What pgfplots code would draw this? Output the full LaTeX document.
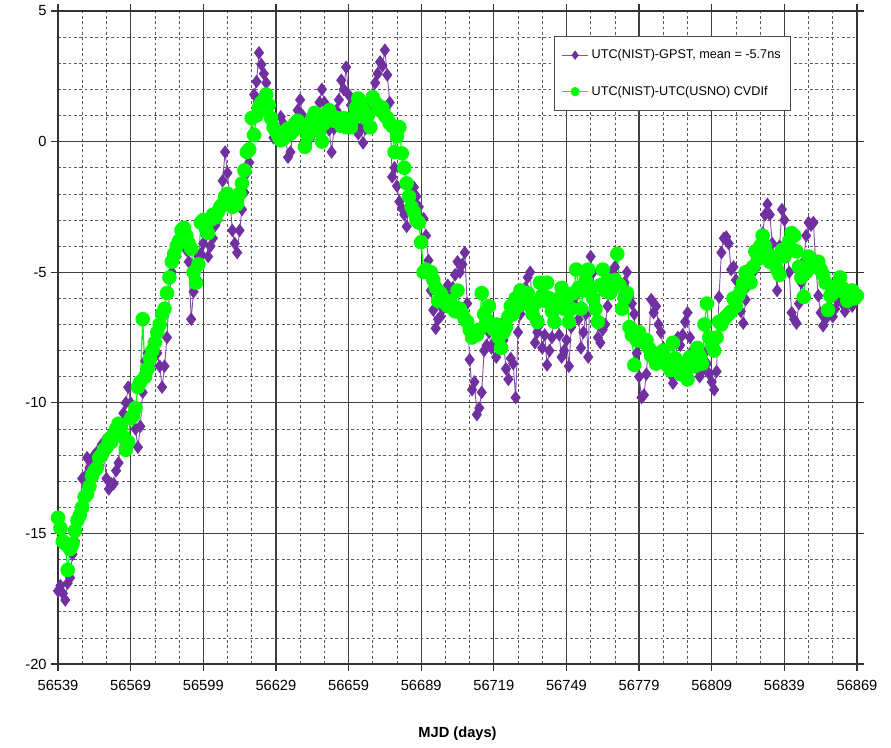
\documentclass[border=0pt]{standalone}
\usepackage{fontspec}
\setmainfont{Liberation Sans}
\usepackage{pgfplots}
\pgfplotsset{compat=1.18}
\definecolor{gpst}{RGB}{112,48,160}
\definecolor{cvd}{RGB}{0,255,0}
\begin{document}
\begin{tikzpicture}
\begin{axis}[
  scale only axis, width=599.25pt, height=489.75pt,
  xmin=56539, xmax=56869, ymin=-20, ymax=5,
  xtick={56539,56569,56599,56629,56659,56689,56719,56749,56779,56809,56839,56869},
  xticklabels={56539,56569,56599,56629,56659,56689,56719,56749,56779,56809,56839,56869},
  scaled x ticks=false,
  ytick={-20,-15,...,5},
  minor x tick num=2, minor y tick num=4,
  grid=both,
  major grid style={line width=1pt, color=black!75},
  minor grid style={dash pattern=on 2pt off 2pt, line width=0.5pt, color=black!65},
  axis line style={line width=1pt, black!80},
  tick align=outside, major tick length=5pt, minor tick length=0pt,
  tick style={black!80, line width=0.9pt},
  xticklabel style={font=\fontsize{11}{13}\selectfont, yshift=-4pt},
  yticklabel style={font=\fontsize{11}{13}\selectfont},
  /pgf/number format/assume math mode=true,
  xlabel={\bfseries MJD (days)}, xlabel style={font=\fontsize{11}{13}\selectfont, yshift=-20pt},
  legend style={at={(0.621,0.962)}, anchor=north west, draw=black!70, line width=0.6pt,
    font=\fontsize{9.5}{11}\selectfont, row sep=15pt, inner xsep=5pt, inner ysep=8pt, cells={anchor=west}},
  legend cell align=left,
  legend image code/.code={\draw[mark repeat=2,mark phase=2,mark size=3pt] plot coordinates {(0cm,0cm)(0.35cm,0cm)(0.7cm,0cm)};},
  clip=true,
]
\addplot[color=gpst!85, line width=0.7pt, mark=diamond*, mark size=4.5pt, mark options={fill=gpst, draw=gpst}] coordinates {
(56539,-17.2)(56540,-17.0)(56541,-17.3)(56542,-17.55)(56543,-16.9)(56544,-16.7)(56545,-15.8)(56546,-15.3)(56547,-14.6)(56548,-14.1)
(56549,-12.9)(56550,-12.85)(56551,-12.1)(56552,-12.5)(56553,-12.3)(56554,-12.0)(56555,-11.9)(56556,-12.4)(56557,-11.6)(56558,-12.0)
(56559,-12.9)(56560,-13.3)(56561,-13.1)(56562,-13.1)(56563,-12.6)(56564,-12.3)(56565,-11.2)(56566,-10.4)(56567,-10.0)(56568,-9.4)
(56569,-10.0)(56570,-10.6)(56571,-11.0)(56572,-11.7)(56573,-10.9)(56574,-9.6)(56575,-8.4)(56576,-8.1)(56577,-8.6)(56578,-8.0)
(56579,-8.1)(56580,-8.1)(56581,-8.6)(56582,-9.4)(56583,-8.6)(56584,-7.5)(56585,-5.8)(56586,-5.0)(56587,-4.6)(56588,-4.4)
(56589,-3.8)(56590,-3.6)(56591,-3.3)(56592,-4.15)(56593,-4.6)(56594,-6.8)(56595,-5.75)(56596,-5.0)(56597,-4.4)(56598,-4.3)
(56599,-3.9)(56600,-3.6)(56601,-4.4)(56602,-4.0)(56603,-3.7)(56604,-3.2)(56605,-3.0)(56606,-2.6)(56607,-1.5)(56608,-0.4)
(56609,-1.2)(56610,-2.2)(56611,-3.4)(56612,-3.9)(56613,-4.25)(56614,-3.4)(56615,-2.6)(56616,-1.95)(56617,-1.2)(56618,-0.8)
(56619,0.3)(56620,1.8)(56621,2.3)(56622,3.4)(56623,2.95)(56624,2.6)(56625,2.25)(56626,1.4)(56627,0.8)(56628,0.15)
(56629,0.5)(56630,0.3)(56631,0.95)(56632,0.7)(56633,0.2)(56634,-0.6)(56635,-0.4)(56636,0.3)(56637,0.5)(56638,1.2)
(56639,1.6)(56640,1.0)(56641,0.6)(56642,0.35)(56643,0.1)(56644,0.3)(56645,0.7)(56646,0.9)(56647,1.5)(56648,2.0)
(56649,1.5)(56650,1.0)(56651,0.45)(56652,-0.4)(56653,0.5)(56654,1.2)(56655,1.6)(56656,2.35)(56657,2.0)(56658,2.85)
(56659,1.8)(56660,1.4)(56661,1.1)(56662,0.6)(56663,0.3)(56664,0.5)(56665,-0.05)(56666,0.5)(56667,1.2)(56668,1.4)
(56669,1.8)(56670,2.25)(56671,2.6)(56672,3.05)(56673,2.9)(56674,3.5)(56675,2.55)(56676,1.5)(56677,-1.35)(56678,-1.0)
(56679,-1.7)(56680,-2.3)(56681,-2.55)(56682,-2.8)(56683,-3.25)(56684,-2.5)(56685,-2.0)(56686,-1.75)(56687,-2.1)(56688,-2.5)
(56689,-3.0)(56690,-2.95)(56691,-3.6)(56692,-4.55)(56693,-5.7)(56694,-6.45)(56695,-7.15)(56696,-6.8)(56697,-6.7)(56698,-6.4)
(56699,-6.0)(56700,-5.5)(56701,-5.9)(56702,-5.6)(56703,-5.1)(56704,-4.6)(56705,-5.0)(56706,-4.7)(56707,-4.25)(56708,-6.2)
(56709,-8.35)(56710,-9.5)(56711,-9.2)(56712,-10.45)(56713,-10.2)(56714,-9.6)(56715,-8.0)(56716,-7.8)(56717,-7.3)(56718,-7.9)
(56719,-7.7)(56720,-8.25)(56721,-7.6)(56722,-7.0)(56723,-7.6)(56724,-8.7)(56725,-9.1)(56726,-8.3)(56727,-8.5)(56728,-9.8)
(56729,-7.3)(56730,-6.6)(56731,-6.0)(56732,-5.6)(56733,-5.2)(56734,-5.0)(56735,-6.4)(56736,-7.7)(56737,-7.3)(56738,-7.0)
(56739,-7.9)(56740,-7.4)(56741,-8.55)(56742,-8.0)(56743,-7.5)(56744,-6.6)(56745,-6.2)(56746,-7.4)(56747,-8.25)(56748,-8.0)
(56749,-7.6)(56750,-8.6)(56751,-7.1)(56752,-6.2)(56753,-5.9)(56754,-6.8)(56755,-7.9)(56756,-7.3)(56757,-6.6)(56758,-8.25)
(56759,-4.4)(56760,-5.0)(56761,-6.5)(56762,-7.5)(56763,-7.7)(56764,-7.2)(56765,-7.0)(56766,-6.3)(56767,-5.6)(56768,-5.0)
(56769,-4.8)(56770,-5.5)(56771,-6.4)(56772,-6.0)(56773,-5.4)(56774,-5.0)(56775,-5.95)(56776,-6.2)(56777,-6.6)(56778,-8.1)
(56779,-9.0)(56780,-9.8)(56781,-9.7)(56782,-8.9)(56783,-7.6)(56784,-6.05)(56785,-6.55)(56786,-6.3)(56787,-7.0)(56788,-7.3)
(56789,-7.9)(56790,-8.5)(56791,-8.6)(56792,-8.9)(56793,-9.25)(56794,-8.3)(56795,-7.5)(56796,-7.8)(56797,-7.4)(56798,-6.9)
(56799,-6.55)(56800,-7.5)(56801,-8.0)(56802,-8.4)(56803,-8.7)(56804,-9.0)(56805,-8.8)(56806,-8.1)(56807,-8.5)(56808,-8.9)
(56809,-9.2)(56810,-9.5)(56811,-8.8)(56812,-5.95)(56813,-4.25)(56814,-3.7)(56815,-3.65)(56816,-3.9)(56817,-4.9)(56818,-4.8)
(56819,-5.3)(56820,-5.8)(56821,-6.5)(56822,-6.95)(56823,-6.05)(56824,-5.5)(56825,-5.2)(56826,-4.7)(56827,-4.9)(56828,-4.3)
(56829,-4.0)(56830,-3.5)(56831,-2.8)(56832,-2.4)(56833,-2.8)(56834,-3.9)(56835,-4.6)(56836,-5.7)(56837,-4.0)(56838,-2.6)
(56839,-3.0)(56840,-3.8)(56841,-5.0)(56842,-6.55)(56843,-6.8)(56844,-6.95)(56845,-6.2)(56846,-5.4)(56847,-4.6)(56848,-3.6)
(56849,-3.1)(56850,-3.2)(56851,-3.1)(56852,-4.8)(56853,-5.9)(56854,-6.55)(56855,-7.05)(56856,-6.8)(56857,-6.4)(56858,-6.0)
(56859,-6.7)(56860,-6.4)(56861,-6.1)(56862,-5.8)(56863,-6.2)(56864,-6.5)(56865,-6.2)(56866,-6.0)(56867,-6.3)(56868,-5.9)(56869,-5.8)
};
\addlegendentry{UTC(NIST)-GPST, mean = -5.7ns}
\addplot[color=cvd, line width=0.9pt, mark=*, mark size=5pt, mark options={fill=cvd, draw=cvd}] coordinates {
(56539,-14.4)(56540,-14.8)(56541,-15.3)(56542,-15.4)(56543,-16.4)(56544,-15.6)(56545,-15.4)(56546,-14.9)(56547,-14.5)(56548,-14.3)
(56549,-14.0)(56550,-13.6)(56551,-13.5)(56552,-13.2)(56553,-12.8)(56554,-12.6)(56555,-12.5)(56556,-12.1)(56557,-12.0)(56558,-11.8)
(56559,-11.7)(56560,-11.4)(56561,-11.5)(56562,-11.2)(56563,-11.0)(56564,-10.8)(56565,-10.9)(56566,-11.3)(56567,-11.8)(56568,-11.5)
(56569,-10.6)(56570,-10.5)(56571,-10.2)(56572,-9.4)(56573,-9.2)(56574,-6.8)(56575,-9.0)(56576,-8.7)(56577,-8.3)(56578,-8.0)
(56579,-7.7)(56580,-7.3)(56581,-7.0)(56582,-6.6)(56583,-6.4)(56584,-5.8)(56585,-5.2)(56586,-4.6)(56587,-4.3)(56588,-4.0)
(56589,-3.8)(56590,-3.4)(56591,-3.3)(56592,-3.6)(56593,-3.9)(56594,-4.1)(56595,-5.0)(56596,-5.4)(56597,-4.7)(56598,-3.1)
(56599,-3.0)(56600,-3.3)(56601,-3.5)(56602,-3.0)(56603,-2.8)(56604,-2.9)(56605,-2.7)(56606,-2.5)(56607,-2.4)(56608,-2.1)
(56609,-2.0)(56610,-2.2)(56611,-2.5)(56612,-2.3)(56613,-2.4)(56614,-2.0)(56615,-1.6)(56616,-1.1)(56617,-0.4)(56618,-0.3)
(56619,0.9)(56620,0.25)(56621,1.0)(56622,1.3)(56623,1.5)(56624,1.3)(56625,1.8)(56626,1.4)(56627,0.9)(56628,0.55)
(56629,0.4)(56630,0.2)(56631,0.05)(56632,0.1)(56633,0.3)(56634,0.5)(56635,0.3)(56636,0.4)(56637,0.7)(56638,0.8)
(56639,0.55)(56640,0.6)(56641,-0.2)(56642,0.2)(56643,0.7)(56644,0.9)(56645,1.1)(56646,1.0)(56647,0.4)(56648,0.0)
(56649,0.7)(56650,1.1)(56651,1.2)(56652,1.0)(56653,0.8)(56654,0.9)(56655,0.8)(56656,0.6)(56657,0.9)(56658,0.55)
(56659,0.7)(56660,0.55)(56661,0.9)(56662,1.3)(56663,1.65)(56664,1.5)(56665,1.2)(56666,0.9)(56667,1.0)(56668,0.55)
(56669,1.7)(56670,1.5)(56671,1.4)(56672,1.2)(56673,1.3)(56674,1.0)(56675,0.9)(56676,0.7)(56677,0.6)(56678,-0.4)
(56679,0.2)(56680,0.55)(56681,-0.45)(56682,-1.0)(56683,-1.6)(56684,-2.1)(56685,-2.5)(56686,-2.7)(56687,-3.0)(56688,-3.1)
(56689,-3.85)(56690,-5.0)(56691,-4.9)(56692,-5.0)(56693,-5.0)(56694,-5.3)(56695,-5.6)(56696,-6.1)(56697,-5.8)(56698,-6.0)
(56699,-6.2)(56700,-6.3)(56701,-6.1)(56702,-6.3)(56703,-6.5)(56704,-5.7)(56705,-6.4)(56706,-6.6)(56707,-6.8)(56708,-6.9)
(56709,-7.2)(56710,-7.5)(56711,-7.3)(56712,-7.4)(56713,-7.2)(56714,-5.8)(56715,-6.6)(56716,-6.8)(56717,-6.3)(56718,-7.1)
(56719,-7.2)(56720,-7.0)(56721,-7.5)(56722,-7.9)(56723,-7.3)(56724,-7.1)(56725,-6.7)(56726,-6.3)(56727,-6.6)(56728,-6.0)
(56729,-6.3)(56730,-5.7)(56731,-6.2)(56732,-6.1)(56733,-5.8)(56734,-6.3)(56735,-6.6)(56736,-6.2)(56737,-6.9)(56738,-5.4)
(56739,-5.9)(56740,-6.1)(56741,-5.4)(56742,-6.0)(56743,-6.5)(56744,-6.9)(56745,-6.3)(56746,-6.0)(56747,-5.6)(56748,-6.4)
(56749,-6.1)(56750,-6.9)(56751,-6.4)(56752,-5.8)(56753,-4.9)(56754,-5.6)(56755,-6.4)(56756,-5.7)(56757,-5.3)(56758,-4.9)
(56759,-5.6)(56760,-6.0)(56761,-6.4)(56762,-6.9)(56763,-5.5)(56764,-4.9)(56765,-5.7)(56766,-5.3)(56767,-5.8)(56768,-5.6)
(56769,-5.3)(56770,-4.3)(56771,-5.5)(56772,-6.4)(56773,-6.0)(56774,-5.8)(56775,-7.1)(56776,-7.4)(56777,-8.55)(56778,-7.6)
(56779,-7.3)(56780,-7.6)(56781,-7.7)(56782,-7.6)(56783,-7.9)(56784,-8.2)(56785,-8.1)(56786,-8.5)(56787,-8.3)(56788,-8.1)
(56789,-8.0)(56790,-8.4)(56791,-8.6)(56792,-8.75)(56793,-7.7)(56794,-8.3)(56795,-8.6)(56796,-8.9)(56797,-8.5)(56798,-8.9)
(56799,-9.1)(56800,-8.25)(56801,-8.4)(56802,-8.6)(56803,-7.9)(56804,-8.2)(56805,-8.5)(56806,-7.0)(56807,-6.2)(56808,-7.5)
(56809,-7.8)(56810,-8.0)(56811,-7.5)(56812,-6.9)(56813,-7.0)(56814,-6.8)(56815,-6.7)(56816,-6.6)(56817,-6.5)(56818,-6.0)
(56819,-6.3)(56820,-5.9)(56821,-5.7)(56822,-5.4)(56823,-5.0)(56824,-5.2)(56825,-5.4)(56826,-4.8)(56827,-4.2)(56828,-4.5)
(56829,-4.0)(56830,-3.6)(56831,-4.0)(56832,-4.3)(56833,-4.6)(56834,-4.4)(56835,-4.7)(56836,-4.9)(56837,-5.1)(56838,-4.15)
(56839,-4.4)(56840,-4.2)(56841,-3.8)(56842,-3.5)(56843,-3.6)(56844,-4.2)(56845,-4.8)(56846,-5.2)(56847,-5.95)(56848,-5.0)
(56849,-4.4)(56850,-4.5)(56851,-4.6)(56852,-4.8)(56853,-4.6)(56854,-4.9)(56855,-5.1)(56856,-5.4)(56857,-6.45)(56858,-5.9)
(56859,-5.8)(56860,-5.7)(56861,-5.5)(56862,-5.2)(56863,-5.6)(56864,-5.8)(56865,-6.1)(56866,-5.9)(56867,-5.7)(56868,-6.0)(56869,-5.9)
};
\addlegendentry{UTC(NIST)-UTC(USNO) CVDIf}
\end{axis}
\path (current axis.south west) ++(-43.5pt,-62.25pt) (current axis.north east) ++(25.5pt,8.25pt);
\end{tikzpicture}
\end{document}
